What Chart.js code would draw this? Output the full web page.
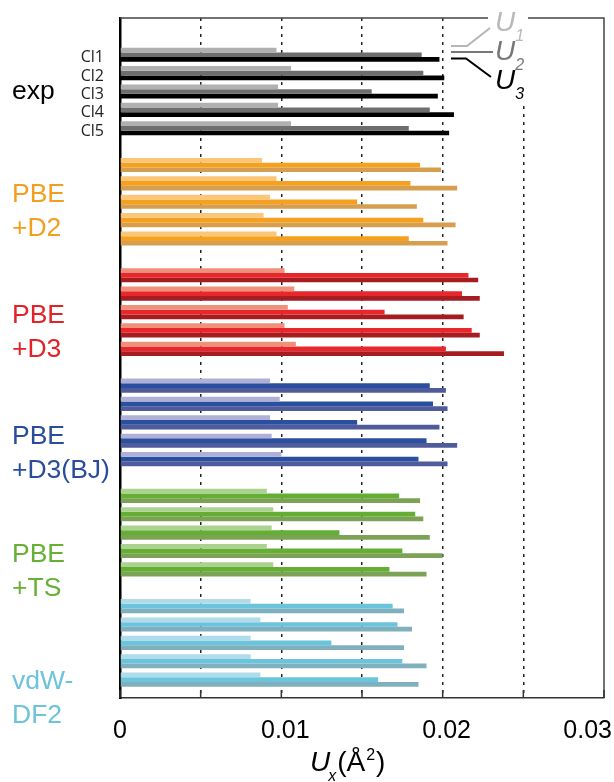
<!DOCTYPE html>
<html>
<head>
<meta charset="utf-8">
<script src="https://cdn.jsdelivr.net/npm/chart.js@4"></script>
<style>
  html, body { margin: 0; padding: 0; background: #fff; }
  #wrap { width: 614px; height: 782px; }
</style>
</head>
<body>
<div id="wrap"><canvas id="myChart" width="614" height="782"></canvas></div>
<script>
const atomLabels = ['Cl1', 'Cl2', 'Cl3', 'Cl4', 'Cl5'];
const groupLabels = [['exp'], ['PBE', '+D2'], ['PBE', '+D3'], ['PBE', '+D3(BJ)'], ['PBE', '+TS'], ['vdW-', 'DF2']];
const xTickLabels = ['0', '0.01', '0.02', '0.03'];

// one row per method (exp, D2, D3, D3(BJ), TS, vdW-DF2), Cl1..Cl5, in Å^2
const U1 = [
  [0.0097, 0.0106, 0.0098, 0.0098, 0.0106],
  [0.0088, 0.0097, 0.0093, 0.0089, 0.0097],
  [0.0102, 0.0108, 0.0104, 0.0102, 0.0109],
  [0.0093, 0.0099, 0.0093, 0.0094, 0.0100],
  [0.0091, 0.0095, 0.0094, 0.0091, 0.0095],
  [0.0081, 0.0087, 0.0081, 0.0081, 0.0087]
];
const U2 = [
  [0.0187, 0.0188, 0.0156, 0.0192, 0.0179],
  [0.0186, 0.0180, 0.0147, 0.0188, 0.0179],
  [0.0216, 0.0212, 0.0164, 0.0218, 0.0202],
  [0.0192, 0.0194, 0.0147, 0.0190, 0.0185],
  [0.0173, 0.0183, 0.0136, 0.0175, 0.0167],
  [0.0169, 0.0172, 0.0131, 0.0175, 0.0160]
];
const U3 = [
  [0.0198, 0.0201, 0.0197, 0.0207, 0.0204],
  [0.0199, 0.0209, 0.0184, 0.0208, 0.0203],
  [0.0222, 0.0223, 0.0213, 0.0223, 0.0238],
  [0.0202, 0.0203, 0.0198, 0.0209, 0.0203],
  [0.0186, 0.0188, 0.0192, 0.0200, 0.0190],
  [0.0176, 0.0181, 0.0176, 0.0190, 0.0185]
];

const groupColors = ['#000000', '#f29f1f', '#e32227', '#2a4d9a', '#66b035', '#6cc3da'];
const u1Colors = ['#b0b0b0', '#fbc677', '#f0907a', '#aeb0d6', '#acd28f', '#b0dcea'];
const u2Colors = ['#6e6e6e', '#f5a01e', '#e8262b', '#2b4f9f', '#63ae33', '#6ac4dc'];
const u3Colors = ['#000000', '#d59f4f', '#a51d21', '#4f5b9a', '#7ca355', '#80afbd'];

const rowsPerGroup = 6; // 5 atoms + one empty row between methods
// first text line of each method label, in row units
const labelRows = [2.0, 7.62, 14.2, 20.8, 27.2, 34.1];

function toPoints(values) {
  const pts = [];
  values.forEach((g, gi) => g.forEach((v, ai) => pts.push({ x: v, y: gi * rowsPerGroup + ai })));
  return pts;
}
function toColors(values, cols) {
  return values.flatMap((g, gi) => g.map(() => cols[gi]));
}

const decor = {
  id: 'decor',
  afterDraw(chart) {
    const c = chart.ctx;
    const area = chart.chartArea;
    const xs = chart.scales.x;
    const ys = chart.scales.y;
    c.save();

    // frame top / right
    c.strokeStyle = '#444';
    c.lineWidth = 1.5;
    c.beginPath();
    c.moveTo(area.left, area.top);
    c.lineTo(area.right, area.top);
    c.lineTo(area.right, area.bottom);
    c.stroke();

    // inward ticks
    c.strokeStyle = '#333';
    c.lineWidth = 1.5;
    xs.ticks.forEach(t => {
      const px = xs.getPixelForValue(t.value);
      c.beginPath();
      c.moveTo(px, area.bottom);
      c.lineTo(px, area.bottom - 8);
      c.stroke();
    });

    // tick labels
    c.fillStyle = '#000';
    c.font = '25px "Liberation Sans", Arial, sans-serif';
    c.textAlign = 'center';
    c.textBaseline = 'alphabetic';
    xTickLabels.forEach((lab, i) => {
      let px = xs.getPixelForValue(i * 0.01) + (i ? 4 : 0);
      const w = c.measureText(lab).width;
      px = Math.min(px, chart.width - 2 - w / 2);
      c.fillText(lab, px, 738);
    });

    // axis title  U_x(Å^2)
    c.textAlign = 'left';
    let tx = 310;
    c.font = 'italic 28px "Liberation Sans", Arial, sans-serif';
    c.fillText('U', tx, 771);
    tx += c.measureText('U').width;
    c.font = 'italic 16px "Liberation Sans", Arial, sans-serif';
    c.fillText('x', tx - 2, 781);
    tx += c.measureText('x').width - 1;
    c.font = '28px "Liberation Sans", Arial, sans-serif';
    c.fillText('(Å', tx, 771);
    tx += c.measureText('(Å').width + 1;
    c.font = '16px "Liberation Sans", Arial, sans-serif';
    c.fillText('2', tx, 760);
    tx += c.measureText('2').width + 1;
    c.font = '28px "Liberation Sans", Arial, sans-serif';
    c.fillText(')', tx, 771);

    // atom labels
    c.font = '16px "Open Sans", "Liberation Sans", sans-serif';
    c.fillStyle = '#222';
    c.textAlign = 'right';
    c.textBaseline = 'middle';
    atomLabels.forEach((lab, ai) => {
      c.fillText(lab, 104, ys.getPixelForValue(ai) + 3);
    });

    // method labels
    c.font = '26.5px "Liberation Sans", Arial, sans-serif';
    c.textAlign = 'left';
    groupLabels.forEach((lines, gi) => {
      c.fillStyle = groupColors[gi];
      const y0 = ys.getPixelForValue(labelRows[gi]);
      lines.forEach((ln, li) => c.fillText(ln, 12, y0 + li * 34));
    });

    // legend
    c.fillStyle = '#fff';
    c.fillRect(446, area.top + 1, 98, 82);
    c.fillRect(488, area.top - 6, 40, 12);
    c.lineWidth = 2;
    c.strokeStyle = '#b5b5b5';
    c.beginPath(); c.moveTo(451, 46); c.lineTo(467, 46); c.lineTo(490, 28); c.stroke();
    c.strokeStyle = '#777';
    c.beginPath(); c.moveTo(451, 52); c.lineTo(493, 52); c.stroke();
    c.strokeStyle = '#000';
    c.beginPath(); c.moveTo(451, 58.5); c.lineTo(466, 58.5); c.lineTo(491, 77); c.stroke();

    const legendItems = [['1', '#b8b8b8', 31], ['2', '#777', 60], ['3', '#000', 89]];
    c.textBaseline = 'alphabetic';
    legendItems.forEach(([sub, col, base]) => {
      c.fillStyle = col;
      c.font = 'italic 28px "Liberation Sans", Arial, sans-serif';
      c.fillText('U', 495, base);
      const w = c.measureText('U').width;
      c.font = 'italic 16px "Liberation Sans", Arial, sans-serif';
      c.fillText(sub, 495 + w, base + 10);
    });

    c.restore();
  }
};

const ctx = document.getElementById('myChart').getContext('2d');
new Chart(ctx, {
  type: 'bar',
  data: {
    datasets: [
      { label: 'U1', data: toPoints(U1), backgroundColor: toColors(U1, u1Colors) },
      { label: 'U2', data: toPoints(U2), backgroundColor: toColors(U2, u2Colors) },
      { label: 'U3', data: toPoints(U3), backgroundColor: toColors(U3, u3Colors) }
    ]
  },
  options: {
    indexAxis: 'y',
    responsive: false,
    animation: false,
    layout: { padding: { left: 120, top: 18, right: 10, bottom: 0 } },
    datasets: { bar: { barPercentage: 1, categoryPercentage: 0.77, borderWidth: 0 } },
    plugins: { legend: { display: false }, tooltip: { enabled: false } },
    scales: {
      x: {
        type: 'linear',
        min: 0,
        max: 0.03,
        ticks: { display: false, stepSize: 0.005 },
        grid: {
          drawTicks: false,
          lineWidth: 1.5,
          color: g => (g.tick && g.tick.value > 0.001 && g.tick.value < 0.029) ? '#222' : 'rgba(0,0,0,0)'
        },
        border: { display: true, color: '#333', width: 1.5, dash: [3, 5] },
        afterFit: s => { s.height = 84; }
      },
      y: {
        type: 'linear',
        reverse: true,
        min: -2,
        max: 35,
        offset: false,
        ticks: { display: false },
        grid: { display: false },
        border: { display: true, color: '#000', width: 2.5 },
        afterFit: s => { s.width = 0; }
      }
    }
  },
  plugins: [decor]
});
</script>
</body>
</html>
